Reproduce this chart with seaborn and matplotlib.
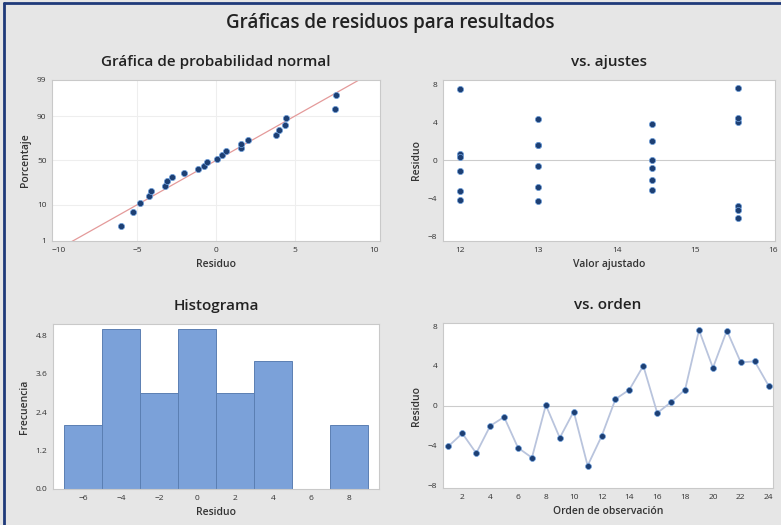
import numpy as np
import pandas as pd
import matplotlib
matplotlib.use('Agg')
import matplotlib.pyplot as plt
from matplotlib.lines import Line2D
import seaborn as sns
from statistics import NormalDist

# datos
orden = list(range(1, 25))
residuos = [-4.1, -2.8, -4.8, -2.05, -1.15, -4.25, -5.25, 0.05, -3.25, -0.6, -6.05, -3.1,
            0.65, 1.6, 4.0, -0.75, 0.35, 1.6, 7.6, 3.8, 7.55, 4.35, 4.45, 2.0]
ajustados = [12.0, 13.0, 15.55, 14.45, 12.0, 13.0, 15.55, 14.45, 12.0, 13.0, 15.55, 14.45,
             12.0, 13.0, 15.55, 14.45, 12.0, 13.0, 15.55, 14.45, 12.0, 13.0, 15.55, 14.45]
bordes_hist = [-7, -5, -3, -1, 1, 3, 5, 7, 9]
ticks_pct = [1, 10, 50, 90, 99]

df = pd.DataFrame({'Orden': orden, 'Residuo': residuos, 'Ajuste': ajustados})

# probabilidad normal (rangos medianos)
nd = NormalDist()
df_ord = df.sort_values('Residuo').reset_index(drop=True)
n = len(df_ord)
df_ord['z'] = [nd.inv_cdf((i + 1 - 0.3) / (n + 0.4)) for i in range(n)]
mu = np.mean(residuos)
sd = np.std(residuos, ddof=1)

sns.set_style('white')
plt.rcParams['font.family'] = ['Open Sans', 'DejaVu Sans']

bg = '#e6e6e6'
punto = '#1d3f73'
fig = plt.figure(figsize=(7.81, 5.25), dpi=100, facecolor=bg)

ax1 = fig.add_axes([0.0666, 0.541, 0.420, 0.3067])
ax2 = fig.add_axes([0.567, 0.541, 0.425, 0.3067])
ax3 = fig.add_axes([0.0679, 0.0686, 0.4174, 0.314])
ax4 = fig.add_axes([0.567, 0.0705, 0.4225, 0.314])

def estilo(ax, titulo, xlab, ylab):
    ax.set_facecolor('white')
    for s in ax.spines.values():
        s.set_color('#c9c9c9')
        s.set_linewidth(0.8)
    ax.tick_params(labelsize=6, colors='#333333', length=2, width=0.6, pad=2)
    ax.set_title(titulo, fontsize=11, color='#222222', pad=10, fontweight='semibold')
    ax.set_xlabel(xlab, fontsize=7.5, color='#333333', labelpad=4, fontweight='semibold')
    ax.set_ylabel(ylab, fontsize=7.5, color='#333333', labelpad=4, fontweight='semibold')

# 1. grafica de probabilidad normal
zmin, zmax = nd.inv_cdf(0.01), nd.inv_cdf(0.99)
for v in [-5, 0, 5]:
    ax1.axvline(v, color='#eeeeee', lw=0.8, zorder=0)
for p in [10, 50, 90]:
    ax1.axhline(nd.inv_cdf(p / 100), color='#eeeeee', lw=0.8, zorder=0)
xs = np.array([-10.4, 10.4])
ax1.plot(xs, (xs - mu) / sd, color='#e49a9a', lw=0.9, zorder=1)
sns.scatterplot(data=df_ord, x='Residuo', y='z', ax=ax1, color=punto, s=20,
                edgecolor='#6fa0dc', linewidth=0.5, zorder=3)
ax1.set_xlim(-10.4, 10.4)
ax1.set_ylim(zmin, zmax)
ax1.set_xticks([-10, -5, 0, 5, 10])
ax1.set_yticks([nd.inv_cdf(p / 100) for p in ticks_pct])
ax1.set_yticklabels([str(p) for p in ticks_pct])
estilo(ax1, 'Gráfica de probabilidad normal', 'Residuo', 'Porcentaje')

# 2. vs. ajustes
ax2.axhline(0, color='#cccccc', lw=0.8, zorder=0)
sns.scatterplot(data=df, x='Ajuste', y='Residuo', ax=ax2, color=punto, s=20,
                edgecolor='#6fa0dc', linewidth=0.5, zorder=3)
ax2.set_xlim(11.78, 16.02)
ax2.set_ylim(-8.45, 8.45)
ax2.set_xticks([12, 13, 14, 15, 16])
ax2.set_yticks([-8, -4, 0, 4, 8])
estilo(ax2, 'vs. ajustes', 'Valor ajustado', 'Residuo')

# 3. histograma
sns.histplot(data=df, x='Residuo', bins=bordes_hist, ax=ax3, color='#7ba1d9',
             edgecolor='#5b7fb3', linewidth=0.7, alpha=1)
ax3.set_xlim(-7.6, 9.6)
ax3.set_ylim(0, 5.15)
ax3.set_xticks([-6, -4, -2, 0, 2, 4, 6, 8])
ax3.set_yticks([0, 1.2, 2.4, 3.6, 4.8])
ax3.set_yticklabels(['0.0', '1.2', '2.4', '3.6', '4.8'])
estilo(ax3, 'Histograma', 'Residuo', 'Frecuencia')

# 4. vs. orden
ax4.axhline(0, color='#cccccc', lw=0.8, zorder=0)
sns.lineplot(data=df, x='Orden', y='Residuo', ax=ax4, color='#b9c4dd', lw=1.3, zorder=2)
sns.scatterplot(data=df, x='Orden', y='Residuo', ax=ax4, color=punto, s=18,
                edgecolor='#6fa0dc', linewidth=0.5, zorder=3)
ax4.set_xlim(0.6, 24.3)
ax4.set_ylim(-8.3, 8.3)
ax4.set_xticks(list(range(2, 25, 2)))
ax4.set_yticks([-8, -4, 0, 4, 8])
estilo(ax4, 'vs. orden', 'Orden de observación', 'Residuo')

fig.suptitle('Gráficas de residuos para resultados', fontsize=13.5, color='#222222',
             y=0.975, fontweight='semibold')

# marco azul de la captura
fig.add_artist(Line2D([0.005, 1], [0.994, 0.994], color='#1f3a7a', lw=2, transform=fig.transFigure))
fig.add_artist(Line2D([0.005, 0.005], [0, 0.994], color='#1f3a7a', lw=2, transform=fig.transFigure))

fig.savefig('out.png', dpi=100, facecolor=bg)
